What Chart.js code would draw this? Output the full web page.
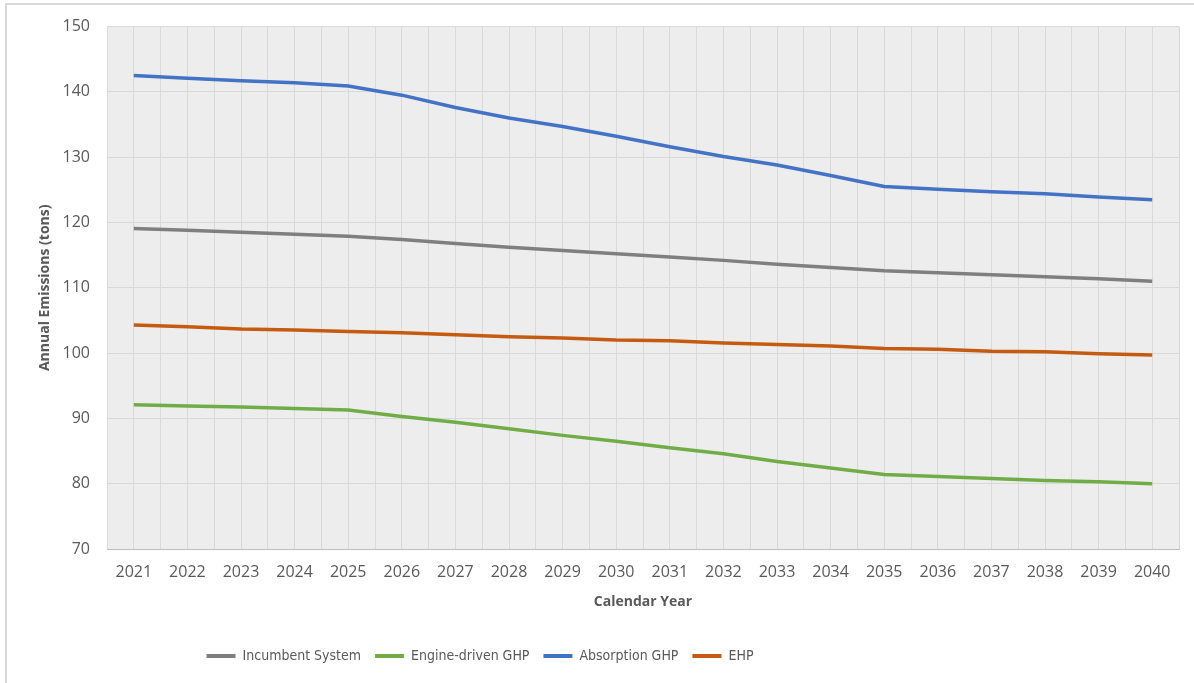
<!DOCTYPE html>
<html>
<head>
<meta charset="utf-8">
<script src="https://cdn.jsdelivr.net/npm/chart.js"></script>
<style>
  html, body { margin: 0; padding: 0; background: #fff; overflow: hidden; }
  #frame { position: absolute; left: 5px; top: 3px; width: 1300px; height: 760px; border: 2px solid #d9d9d9; }
  #wrap { position: absolute; left: 0; top: 0; width: 1194px; height: 683px; }
</style>
</head>
<body>
<div id="frame"></div>
<div id="wrap"><canvas id="chart"></canvas></div>
<script>
// dados
const years = ['2021','2022','2023','2024','2025','2026','2027','2028','2029','2030',
               '2031','2032','2033','2034','2035','2036','2037','2038','2039','2040'];
const incumbent  = [119.1,118.8,118.5,118.2,117.9,117.4,116.8,116.2,115.7,115.2,114.7,114.2,113.6,113.1,112.6,112.3,112.0,111.7,111.4,111.0];
const engineGhp  = [92.1,91.9,91.75,91.5,91.3,90.3,89.4,88.4,87.4,86.5,85.5,84.6,83.4,82.4,81.4,81.1,80.8,80.5,80.3,80.0];
const absorption = [142.5,142.1,141.7,141.4,140.9,139.5,137.6,136.0,134.7,133.2,131.6,130.1,128.8,127.2,125.5,125.1,124.7,124.4,123.9,123.5];
const ehp        = [104.3,104.05,103.7,103.55,103.3,103.1,102.8,102.5,102.3,102.0,101.9,101.55,101.3,101.1,100.7,100.6,100.3,100.2,99.9,99.7];
const yTicks = { min: 70, max: 150, step: 10 };

const COLORS = {
  gray:   '#7f7f7f',
  green:  '#70ad47',
  blue:   '#4472c4',
  orange: '#c55a11',
  text:   '#595959',
  grid:   '#d9d9d9',
  plot:   '#ededed'
};

const TICK_FONT = { family: "'Open Sans', sans-serif", size: 16 };
const TITLE_FONT = { family: "'Open Sans', sans-serif", size: 14, weight: 'bold' };

function line(label, data, color) {
  return { label, data, borderColor: color, backgroundColor: color, borderWidth: 3.5,
           pointRadius: 0, tension: 0, fill: false };
}

// fundo cinza da área de plotagem + posição da legenda
const plotBg = {
  id: 'plotBg',
  afterInit(chart) {
    const lg = chart.legend;
    const fit = lg.fit.bind(lg);
    lg.fit = function () { fit(); this.height = 64; };
  },
  afterLayout(chart) {
    const lg = chart.legend;
    lg.left = 0; lg.right = 960;
    lg.top = 635;
  },
  beforeDraw(chart) {
    const { ctx, chartArea: a } = chart;
    ctx.save();
    ctx.fillStyle = COLORS.plot;
    ctx.fillRect(a.left, a.top, a.right - a.left, a.bottom - a.top);
    ctx.restore();
  }
};

new Chart(document.getElementById('chart'), {
  type: 'line',
  data: {
    labels: years,
    datasets: [
      line('Incumbent System', incumbent, COLORS.gray),
      line('Engine-driven GHP', engineGhp, COLORS.green),
      line('Absorption GHP', absorption, COLORS.blue),
      line('EHP', ehp, COLORS.orange)
    ]
  },
  options: {
    responsive: true,
    maintainAspectRatio: false,
    animation: false,
    layout: { padding: { left: 0, top: 26, right: 15, bottom: 0 } },
    scales: {
      x: {
        type: 'category',
        offset: true,
        grid: { color: COLORS.grid, offset: true, drawTicks: false },
        border: { color: '#bfbfbf' },
        ticks: { color: COLORS.text, font: TICK_FONT, padding: 14, maxRotation: 0, autoSkip: false },
        title: { display: true, text: 'Calendar Year', color: COLORS.text, font: TITLE_FONT, padding: { top: 0, bottom: 9 } },
        afterFit: s => { s.height = 70; }
      },
      x2: {
        type: 'category',
        labels: years,
        position: 'top',
        offset: true,
        grid: { color: COLORS.grid, offset: false, drawTicks: false },
        border: { display: false },
        ticks: { display: false },
        afterFit: s => { s.height = 0; }
      },
      y: {
        min: yTicks.min, max: yTicks.max,
        grid: { color: COLORS.grid, drawTicks: false },
        border: { display: false },
        ticks: { stepSize: yTicks.step, color: COLORS.text, font: TICK_FONT, padding: 17 },
        title: { display: true, text: 'Annual Emissions (tons)', color: COLORS.text, font: TITLE_FONT, padding: { top: 37, bottom: 0 } },
        afterFit: s => { s.width = 107; }
      }
    },
    plugins: {
      legend: {
        position: 'bottom',
        labels: {
          color: COLORS.text,
          font: { family: "'DejaVu Sans Condensed', Lato, sans-serif", size: 14 },
          boxWidth: 29, boxHeight: 4, padding: 14,
          generateLabels: (chart) => Chart.defaults.plugins.legend.labels.generateLabels(chart)
            .map(l => ({ ...l, lineWidth: 0, strokeStyle: 'rgba(0,0,0,0)' }))
        }
      },
      tooltip: { enabled: false }
    }
  },
  plugins: [plotBg]
});
</script>
</body>
</html>
